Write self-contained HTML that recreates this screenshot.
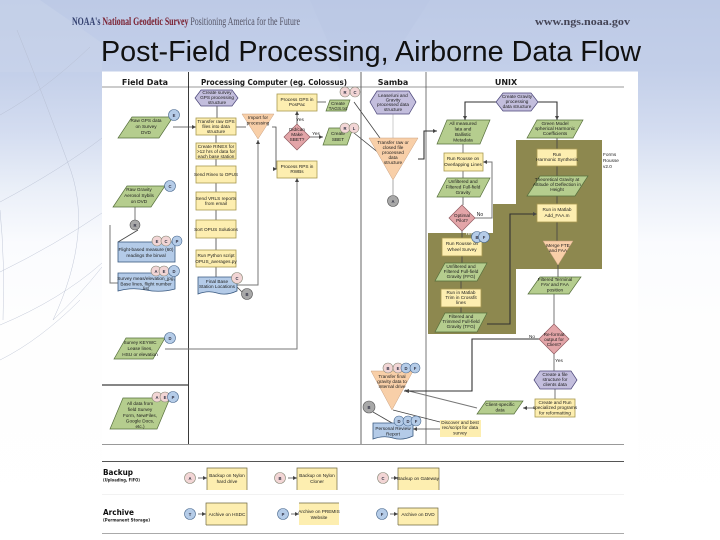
<!DOCTYPE html>
<html><head><meta charset="utf-8"><style>
html,body{margin:0;padding:0;background:#fff}
#s{display:block;position:absolute;left:0;top:0}
.t{font:4.7px "Liberation Sans",sans-serif;text-anchor:middle;fill:#1c1c1c}
.c{font:bold 4.2px "Liberation Sans",sans-serif;text-anchor:middle;fill:#334}
.h{font:bold 8px "DejaVu Sans",sans-serif;text-anchor:middle;fill:#1a1a1a}
.y{fill:#fdeeb0;stroke:#a89850;stroke-width:.8}
.g{fill:#b5cd8e;stroke:#566f3c;stroke-width:.7}
.p{fill:#c3bedd;stroke:#4a4578;stroke-width:.7}
.o{fill:#f8cfa8;stroke:#c9a080;stroke-width:.5}
.d{fill:#e3a5a8;stroke:#8f5a60;stroke-width:.7}
.b{fill:#b4cbe8;stroke:#3a5a80;stroke-width:.8}
.cp{fill:#f2d5d5;stroke:#887;stroke-width:.6}
.cb{fill:#b5cce8;stroke:#4a6a90;stroke-width:.6}
.cg{fill:#a8a8a8;stroke:#555;stroke-width:.6}
.l{fill:none;stroke:#444;stroke-width:.8}
.lg{fill:none;stroke:#777;stroke-width:1}
.ld{fill:none;stroke:#333;stroke-width:1.100}
.a{fill:#444}
.arc{fill:none;stroke:#b4bbce;stroke-width:.4}
</style></head><body>
<svg id="s" width="720" height="540" viewBox="0 0 720 540" xmlns="http://www.w3.org/2000/svg">
<defs>
<linearGradient id="bg" x1="0" y1="0" x2="0" y2="1"><stop offset="0" stop-color="#bdcae6"/><stop offset=".13" stop-color="#c3cfe9"/><stop offset=".24" stop-color="#d3dcf0"/><stop offset=".35" stop-color="#eaeff8"/><stop offset=".45" stop-color="#fafbfe"/><stop offset=".6" stop-color="#fefefe"/><stop offset="1" stop-color="#ffffff"/></linearGradient>
<filter id="bl" x="0" y="0" width="100%" height="100%"><feGaussianBlur stdDeviation="0.35"/></filter>
</defs>
<rect width="720" height="540" fill="url(#bg)"/>
<polygon points="0,0 40,0 102,43 102,72 0,72" fill="#ccd6ec" opacity=".4"/>
<polygon points="310,0 430,0 385,70 340,70" fill="#b9c6e4" opacity=".4"/>
<path class="arc" d="M17,30Q45,100 68,163Q95,230 53,320M0,115Q45,90 90,47M0,202Q60,170 102,138M0,272Q55,245 102,213M0,325Q60,300 102,263M53,320Q80,295 102,267M0,210Q5,260 3,320M0,360Q40,340 80,300"/>
<text x="72" y="25" style="font:bold 11.500px 'Liberation Serif',serif" textLength="228" lengthAdjust="spacingAndGlyphs"><tspan fill="#33406e">NOAA's </tspan><tspan fill="#7a2030">National Geodetic Survey </tspan><tspan fill="#556" font-weight="normal">Positioning America for the Future</tspan></text>
<text x="535" y="25" style="font:bold 11px 'Liberation Serif',serif;fill:#445" textLength="95" lengthAdjust="spacingAndGlyphs">www.ngs.noaa.gov</text>
<text x="101" y="61" style="font:29px 'Liberation Sans',sans-serif;fill:#111" textLength="540" lengthAdjust="spacingAndGlyphs">Post-Field Processing, Airborne Data Flow</text>
<rect x="102" y="71.500" width="536" height="468.500" fill="#fff"/>
<g filter="url(#bl)">
<!-- swimlanes -->
<line x1="102" y1="87" x2="624" y2="87" stroke="#777" stroke-width=".8"/>
<line x1="188.500" y1="72" x2="188.500" y2="444" stroke="#222" stroke-width=".9"/>
<line x1="361" y1="72" x2="361" y2="444" stroke="#666" stroke-width="1"/>
<line x1="426" y1="72" x2="426" y2="444" stroke="#555" stroke-width=".8"/>
<line x1="102" y1="385" x2="188" y2="385" stroke="#111" stroke-width="1"/>
<line x1="102" y1="444.500" x2="624" y2="444.500" stroke="#999" stroke-width="1"/>
<line x1="102" y1="461.500" x2="624" y2="461.500" stroke="#555" stroke-width=".9"/>
<line x1="102" y1="494.500" x2="624" y2="494.500" stroke="#eee" stroke-width=".8"/>
<line x1="102" y1="534" x2="624" y2="534" stroke="#555" stroke-width=".9"/>
<text class="h" x="145" y="85">Field Data</text>
<text class="h" x="274" y="85" textLength="146" lengthAdjust="spacingAndGlyphs">Processing Computer (eg. Colossus)</text>
<text class="h" x="393" y="85">Samba</text>
<text class="h" x="506" y="85">UNIX</text>
<!-- olive -->
<polygon points="516,140 602,140 602,269 516,269 516,334 428,334 428,233 493,233 493,204 516,204" fill="#8d8850"/>
<!-- connectors -->
<path class="l" d="M217,106V118M216,135V143M216,159V166M216,183V192M216,210V220M216,238V250M216,267V277"/>
<path class="l" d="M173,127H196M236,127H246M272,127H276V169H277"/>
<path class="lg" d="M258,140V285H237"/>
<path class="lg" d="M165,349H297V178"/>
<path class="l" d="M297,124V111M310,137H323M317,102H326"/>
<path class="l" d="M354,102L385,145M354,133L385,158"/>
<path class="lg" d="M135,207V220M118,283H110V225"/>
<path class="l" d="M118,242L138,230"/>
<path class="l" d="M237,287L243,293"/>
<path class="lg" d="M393,114V138" style="stroke:#ccc"/>
<path class="lg" d="M393,180V195" style="stroke:#aaa"/>
<path class="ld" d="M418,159H424V131H437"/>
<path class="ld" d="M496,102H465V120M538,102H557V120"/>
<path class="lg" d="M463,144V153M463,171V178M463,197V205"/>
<path class="lg" d="M475,218H492V162H483"/>
<path class="l" d="M462,231V238M462,256V263M461,281V289M461,307V313"/>
<path class="ld" d="M487,324H510V214H537"/>
<path class="l" d="M557,138V149M557,166V176M557,196V204M557,222V241"/>
<path class="l" d="M558,265V277"/>
<path class="lg" d="M554,294V324"/>
<path class="lg" d="M554,354V371M555,389V399"/>
<path class="lg" d="M535,408H523M477,408L405,390"/>
<path class="ld" d="M540,339H472V391H404"/>
<path class="l" d="M393,410L440,422M440,429H413"/>
<path class="l" d="M373,412L392,423"/>
<path class="lg" d="M198,478H207M288,478H297M391,478H398M198,514H206M291,514H299M390,514H398"/>
<g class="a">
<polygon points="196,127 192,125 192,129"/><polygon points="258,140 256,144 260,144"/><polygon points="297,178 295,182 299,182"/><polygon points="297,111 295,115 299,115"/><polygon points="277,169 273,167 273,171"/><polygon points="323,137 319,135 319,139"/><polygon points="437,131 433,129 433,133"/><polygon points="465,120 463,116 467,116"/><polygon points="557,120 555,116 559,116"/><polygon points="537,214 533,212 533,216"/><polygon points="483,162 487,160 487,164"/><polygon points="404,391 409,389 409,393"/><polygon points="413,429 417,427 417,431"/><polygon points="523,408 527,406 527,410"/><polygon points="207,478 203,476 203,480"/><polygon points="297,478 293,476 293,480"/><polygon points="398,478 394,476 394,480"/><polygon points="206,514 202,512 202,516"/><polygon points="299,514 295,512 295,516"/><polygon points="398,514 394,512 394,516"/>
</g>
<!-- Field data -->
<polygon class="g" points="132,117 173,117 159,138 118,138"/>
<text class="t"><tspan x="146" y="122">Raw GPS data</tspan><tspan x="146" y="128">on Survey</tspan><tspan x="146" y="134">DVD</tspan></text>
<polygon class="g" points="127,186 165,186 151,207 113,207"/>
<text class="t"><tspan x="139" y="191">Raw Gravity</tspan><tspan x="139" y="197">Aerosol Sybils</tspan><tspan x="139" y="203">on DVD</tspan></text>
<circle class="cg" cx="135" cy="225" r="5"/><text class="c" x="135" y="227">R</text>
<rect class="b" x="118" y="242" width="57" height="20"/>
<text class="t"><tspan x="146" y="251">Flight-based measure (60)</tspan><tspan x="146" y="257">readings the binval</tspan></text>
<path class="b" d="M118,273H175V289Q160,293 146,290T118,291Z"/>
<text class="t"><tspan x="146" y="280">Survey meas/elevation_jpg,</tspan><tspan x="146" y="285.500">Base lines, flight number</tspan><tspan x="146" y="290">list</tspan></text>
<polygon class="g" points="126,338 165,338 153,359 114,359"/>
<text class="t"><tspan x="140" y="344">Survey KEYWC</tspan><tspan x="140" y="350">Lease lines,</tspan><tspan x="140" y="356">HSU or elevation</tspan></text>
<polygon class="g" points="123,398 170,398 157,429 110,429"/>
<text class="t"><tspan x="140" y="405">All data from</tspan><tspan x="140" y="411">field Survey</tspan><tspan x="140" y="417">Form, NewFiles,</tspan><tspan x="140" y="422.500">Google Docs,</tspan><tspan x="140" y="428">etc.)</tspan></text>
<circle class="cb" cx="174" cy="115" r="5.500"/><text class="c" x="174" y="117">E</text>
<circle class="cb" cx="170" cy="186" r="5.500"/><text class="c" x="170" y="188">C</text>
<circle class="cp" cx="157" cy="241" r="5"/><text class="c" x="157" y="243">E</text><circle class="cp" cx="166" cy="241" r="5"/><text class="c" x="166" y="243">C</text><circle class="cb" cx="177" cy="241" r="5"/><text class="c" x="177" y="243">P</text>
<circle class="cp" cx="156" cy="271" r="5"/><text class="c" x="156" y="273">A</text><circle class="cp" cx="164" cy="271" r="5"/><text class="c" x="164" y="273">E</text><circle class="cb" cx="174" cy="271" r="5.500"/><text class="c" x="174" y="273">D</text>
<circle class="cb" cx="170" cy="338" r="5.500"/><text class="c" x="170" y="340">D</text>
<circle class="cp" cx="157" cy="397" r="5"/><text class="c" x="157" y="399">A</text><circle class="cp" cx="165" cy="397" r="5"/><text class="c" x="165" y="399">E</text><circle class="cb" cx="173" cy="397" r="5.500"/><text class="c" x="173" y="399">P</text>
<!-- Processing -->
<polygon class="p" points="195,98 201,90 232,90 238,98 232,106 201,106"/>
<text class="t"><tspan x="217" y="94">Create survey</tspan><tspan x="217" y="99">GPS processing</tspan><tspan x="217" y="104">structure</tspan></text>
<rect class="y" x="196" y="118" width="40" height="17"/>
<text class="t"><tspan x="216" y="123">Transfer raw GPS</tspan><tspan x="216" y="128">files into data</tspan><tspan x="216" y="133">structure</tspan></text>
<rect class="y" x="196" y="143" width="40" height="16"/>
<text class="t"><tspan x="216" y="148">Create RINEX for</tspan><tspan x="216" y="153">&gt;12 hrs of data for</tspan><tspan x="216" y="158">each base station</tspan></text>
<rect class="y" x="196" y="166" width="40" height="17"/><text class="t" x="216" y="176">Send Rinex to OPUS</text>
<rect class="y" x="196" y="192" width="40" height="18"/><text class="t"><tspan x="216" y="200">Send VRLS reports</tspan><tspan x="216" y="205">from email</tspan></text>
<rect class="y" x="196" y="220" width="40" height="18"/><text class="t" x="216" y="231">Sort OPUS Solutions</text>
<rect class="y" x="196" y="250" width="40" height="17"/><text class="t"><tspan x="216" y="257">Run Python script</tspan><tspan x="216" y="263">OPUS_averages.py</tspan></text>
<path class="b" d="M198,277H237V291Q226,296 217,293T198,294Z"/>
<text class="t"><tspan x="217" y="283">Final Base</tspan><tspan x="217" y="288">Station Locations</tspan></text>
<circle class="cp" cx="237" cy="278" r="5.500"/><text class="c" x="237" y="280">C</text>
<circle class="cg" cx="247" cy="294" r="5.500"/><text class="c" x="247" y="296">B</text>
<polygon class="o" points="242,114 274,114 258,139"/>
<text class="t"><tspan x="258" y="119">Import for</tspan><tspan x="258" y="124.500">processing</tspan></text>
<rect class="y" x="277" y="94" width="40" height="17"/><text class="t"><tspan x="297" y="101">Process GPS in</tspan><tspan x="297" y="106">PosPac</tspan></text>
<polygon class="d" points="297,124 310,137 297,150 284,137"/>
<text class="t"><tspan x="297" y="131">Did/can</tspan><tspan x="297" y="136">Make</tspan><tspan x="297" y="141">SBET?</tspan></text>
<text class="t" x="300" y="121">Yes</text><text class="t" x="316" y="135">Yes</text>
<rect class="y" x="277" y="161" width="40" height="17"/><text class="t"><tspan x="297" y="168">Process RPS in</tspan><tspan x="297" y="173">RWBs</tspan></text>
<polygon class="g" points="330,100 350,100 346,111 326,111"/><text class="t"><tspan x="338" y="105">Create</tspan><tspan x="338" y="110">TAGS.txt</tspan></text>
<polygon class="g" points="329,128 353,128 347,145 323,145"/><text class="t"><tspan x="338" y="135">Create</tspan><tspan x="338" y="141">SBET</tspan></text>
<circle class="cp" cx="345" cy="92" r="5"/><text class="c" x="345" y="94">R</text><circle class="cp" cx="355" cy="92" r="5"/><text class="c" x="355" y="94">C</text>
<circle class="cp" cx="345" cy="128" r="5"/><text class="c" x="345" y="130">R</text><circle class="cp" cx="354" cy="128" r="5"/><text class="c" x="354" y="130">L</text>
<!-- Samba -->
<polygon class="p" points="370,102 377,91 409,91 416,102 409,114 377,114"/>
<text class="t"><tspan x="393" y="97">Lease/uni and</tspan><tspan x="393" y="101.500">Gravity</tspan><tspan x="393" y="106">processed data</tspan><tspan x="393" y="111">structure</tspan></text>
<polygon class="o" points="369,138 418,138 393,180"/>
<text class="t"><tspan x="393" y="144">Transfer raw or</tspan><tspan x="393" y="149">closed file</tspan><tspan x="393" y="154">processed</tspan><tspan x="393" y="159">data</tspan><tspan x="393" y="164">structure</tspan></text>
<circle class="cg" cx="393" cy="201" r="5.500"/><text class="c" x="393" y="203">A</text>
<polygon class="o" points="371,371 413,371 392,410"/>
<text class="t"><tspan x="392" y="378">Transfer final</tspan><tspan x="392" y="383">gravity data to</tspan><tspan x="392" y="388">Internal drive</tspan></text>
<circle class="cp" cx="388" cy="368" r="5"/><text class="c" x="388" y="370">B</text><circle class="cp" cx="398" cy="368" r="5"/><text class="c" x="398" y="370">E</text><circle class="cb" cx="406" cy="368" r="5"/><text class="c" x="406" y="370">D</text><circle class="cb" cx="415" cy="368" r="5"/><text class="c" x="415" y="370">F</text>
<circle class="cg" cx="369" cy="407" r="6"/><text class="c" x="369" y="409">B</text>
<path class="b" d="M373,423H413V436Q402,441 393,438T373,439Z"/>
<text class="t"><tspan x="393" y="430">Personal Review</tspan><tspan x="393" y="435.500">Report</tspan></text>
<circle class="cb" cx="399" cy="421" r="5"/><text class="c" x="399" y="423">D</text><circle class="cb" cx="408" cy="421" r="5"/><text class="c" x="408" y="423">D</text><circle class="cb" cx="416" cy="421" r="5"/><text class="c" x="416" y="423">F</text>
<!-- UNIX -->
<polygon class="p" points="496,102 503,93 531,93 538,102 531,111 503,111"/>
<text class="t"><tspan x="517" y="98">Create Gravity</tspan><tspan x="517" y="103">processing</tspan><tspan x="517" y="108">data structure</tspan></text>
<polygon class="g" points="447,120 490,120 480,144 437,144"/>
<text class="t"><tspan x="463" y="125">All measured</tspan><tspan x="463" y="130.500">lata and</tspan><tspan x="463" y="136">Ballistic</tspan><tspan x="463" y="141.500">Metadata</tspan></text>
<polygon class="g" points="537,120 583,120 573,138 527,138"/>
<text class="t"><tspan x="555" y="125">Green Model</tspan><tspan x="555" y="130">spherical Harmonic</tspan><tspan x="555" y="135">Coefficients</tspan></text>
<rect class="y" x="444" y="153" width="39" height="18"/><text class="t"><tspan x="463" y="160">Run Rousse on</tspan><tspan x="463" y="166">Overlapping Lines</tspan></text>
<polygon class="g" points="447,178 490,178 480,197 437,197"/>
<text class="t"><tspan x="463" y="183">Unfiltered and</tspan><tspan x="463" y="188.500">Filtered Full-field</tspan><tspan x="463" y="194">Gravity</tspan></text>
<polygon class="d" points="462,205 475,218 462,231 449,218"/><text class="t"><tspan x="462" y="217">Optimal</tspan><tspan x="462" y="222">Pilot?</tspan></text>
<text class="t" x="480" y="216" style="font-size:5px">No</text>
<rect class="y" x="442" y="238" width="40" height="18"/><text class="t"><tspan x="462" y="245">Run Rousse on</tspan><tspan x="462" y="251">Wheel Survey</tspan></text>
<text class="t" x="469" y="235" style="fill:#fff">Yes</text>
<circle class="cb" cx="477" cy="237" r="5.500"/><text class="c" x="477" y="239">B</text><circle class="cb" cx="484" cy="237" r="5.500"/><text class="c" x="484" y="239">F</text>
<polygon class="g" points="445,263 487,263 477,281 435,281"/>
<text class="t"><tspan x="461" y="268">Unfiltered and</tspan><tspan x="461" y="273">Filtered Full-field</tspan><tspan x="461" y="278">Gravity (FFG)</tspan></text>
<rect class="y" x="441" y="289" width="40" height="18"/><text class="t"><tspan x="461" y="294">Run in Matlab</tspan><tspan x="461" y="299">Trim in Crossfit</tspan><tspan x="461" y="304">lines</tspan></text>
<polygon class="g" points="445,313 487,313 477,332 435,332"/>
<text class="t"><tspan x="461" y="318">Filtered and</tspan><tspan x="461" y="323">Trimmed Full-field</tspan><tspan x="461" y="328">Gravity (TFG)</tspan></text>
<rect class="y" x="537" y="149" width="40" height="17"/><text class="t"><tspan x="557" y="156">Run</tspan><tspan x="557" y="161">Harmonic Synthesis</tspan></text>
<polygon class="g" points="540,176 588,176 575,196 527,196"/>
<text class="t"><tspan x="557" y="181">Theoretical Gravity at</tspan><tspan x="557" y="186">Altitude of Deflection in</tspan><tspan x="557" y="191">Height</tspan></text>
<rect class="y" x="537" y="204" width="40" height="18"/><text class="t"><tspan x="557" y="211">Run in Matlab</tspan><tspan x="557" y="217">Add_FAA.m</tspan></text>
<polygon class="o" points="543,241 573,241 558,265"/><text class="t"><tspan x="558" y="247">Merge FTE</tspan><tspan x="558" y="252">and FAA</tspan></text>
<text class="t" style="text-anchor:start"><tspan x="603" y="156">Forms</tspan><tspan x="603" y="162">Rousse</tspan><tspan x="603" y="168">v2.0</tspan></text>
<polygon class="g" points="540,277 581,277 569,294 528,294"/>
<text class="t"><tspan x="555" y="281">Filtered Terminal</tspan><tspan x="555" y="286">FAV and FAA</tspan><tspan x="555" y="291.500">position</tspan></text>
<polygon class="d" points="554,324 569,339 554,354 539,339"/>
<text class="t"><tspan x="554" y="336">Re-format</tspan><tspan x="554" y="341">output for</tspan><tspan x="554" y="346">Client?</tspan></text>
<text class="t" x="532" y="338">No</text><text class="t" x="559" y="362">Yes</text>
<polygon class="p" points="534,380 540,371 571,371 577,380 571,389 540,389"/>
<text class="t"><tspan x="555" y="376">Create a file</tspan><tspan x="555" y="381">structure for</tspan><tspan x="555" y="386">clients data</tspan></text>
<rect class="y" x="535" y="399" width="40" height="18"/><text class="t"><tspan x="555" y="404">Create and Run</tspan><tspan x="555" y="409">specialized programs</tspan><tspan x="555" y="414.500">for reformatting</tspan></text>
<polygon class="g" points="486,401 523,401 514,414 477,414"/><text class="t"><tspan x="500" y="406">Client-specific</tspan><tspan x="500" y="411.500">data</tspan></text>
<rect class="y" x="440" y="420" width="41" height="17" style="stroke:none"/><text class="t"><tspan x="460" y="424">Discover and best</tspan><tspan x="460" y="429">rec/script for data</tspan><tspan x="460" y="434.500">survey</tspan></text>
<!-- Legend -->
<text x="103" y="475" style="font:bold 8px 'DejaVu Sans',sans-serif;fill:#111" textLength="30" lengthAdjust="spacingAndGlyphs">Backup</text>
<text x="103" y="481.500" style="font:bold 4.600px 'DejaVu Sans',sans-serif;fill:#222" textLength="37" lengthAdjust="spacingAndGlyphs">(Uploading, FIFO)</text>
<text x="103" y="515" style="font:bold 8px 'DejaVu Sans',sans-serif;fill:#111" textLength="31" lengthAdjust="spacingAndGlyphs">Archive</text>
<text x="103" y="521.500" style="font:bold 4.600px 'DejaVu Sans',sans-serif;fill:#222" textLength="47" lengthAdjust="spacingAndGlyphs">(Permanent Storage)</text>
<circle class="cp" cx="190" cy="478" r="5.500"/><text class="c" x="190" y="480">A</text>
<circle class="cp" cx="280" cy="478" r="5.500"/><text class="c" x="280" y="480">B</text>
<circle class="cp" cx="383" cy="478" r="5.500"/><text class="c" x="383" y="480">C</text>
<circle class="cb" cx="190" cy="514" r="5.500"/><text class="c" x="190" y="516">T</text>
<circle class="cb" cx="283" cy="514" r="5.500"/><text class="c" x="283" y="516">P</text>
<circle class="cb" cx="382" cy="514" r="5.500"/><text class="c" x="382" y="516">F</text>
<g fill="#fdeeb0">
<rect x="207" y="468" width="40" height="22"/><rect x="297" y="468" width="40" height="22"/><rect x="398" y="468" width="41" height="22"/>
<rect x="206" y="503" width="41" height="22"/><rect x="299" y="503" width="40" height="22"/><rect x="398" y="508" width="40" height="17"/>
</g>
<path d="M207,490V468H247V490M297,490V468H337V490M398,490V468H439V490M206,525V503H247V525H206M299,503H339M398,525V508H438V525H398" fill="none" stroke="#6f6840" stroke-width=".7"/>
<text class="t"><tspan x="227" y="477">Backup on Nylon</tspan><tspan x="227" y="483">hard drive</tspan></text>
<text class="t"><tspan x="317" y="477">Backup on Nylon</tspan><tspan x="317" y="483">Cloner</tspan></text>
<text class="t" x="418" y="480">Backup on Gateway</text>
<text class="t" x="227" y="516">Archive on HSDC</text>
<text class="t"><tspan x="319" y="513">Archive on PREMIS</tspan><tspan x="319" y="519">Website</tspan></text>
<text class="t" x="418" y="516">Archive on DVD</text>
</g>
</svg>
</body></html>
